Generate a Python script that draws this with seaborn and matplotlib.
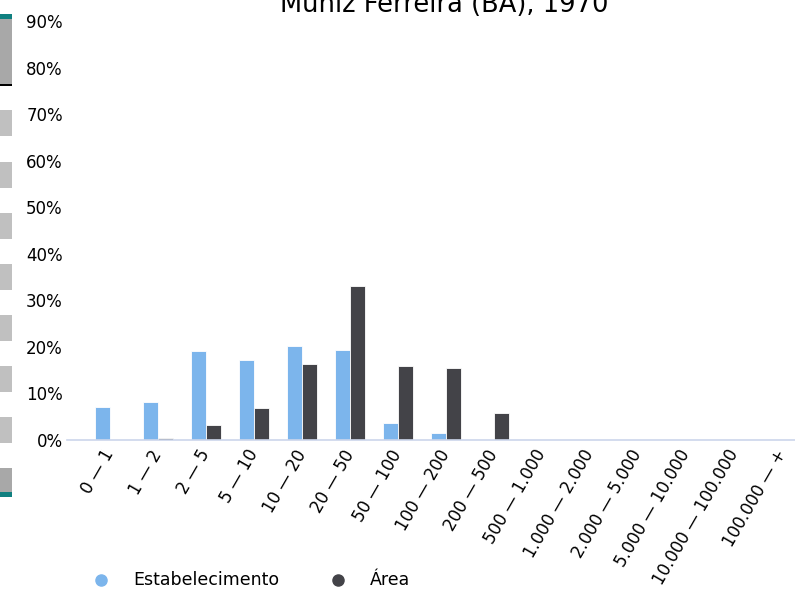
import pandas as pd
import matplotlib
matplotlib.use("Agg")
import matplotlib.pyplot as plt
import seaborn as sns
from matplotlib.patches import Rectangle
from matplotlib.lines import Line2D

# data (percent)
categories = ["0 — 1", "1 — 2", "2 — 5", "5 — 10", "10 — 20", "20 — 50",
              "50 — 100", "100 — 200", "200 — 500", "500 — 1.000",
              "1.000 — 2.000", "2.000 — 5.000", "5.000 — 10.000",
              "10.000 — 100.000", "100.000 — +"]
estabelecimento = [7.1, 8.2, 19.1, 17.2, 20.2, 19.3, 3.6, 1.5, 0, 0, 0, 0, 0, 0, 0]
area = [0, 0.4, 3.2, 6.9, 16.3, 33.1, 15.9, 15.4, 5.8, 0, 0, 0, 0, 0, 0]
series_names = ["Estabelecimento", "Área"]
colors = ["#7cb5ec", "#434348"]
title = "Muniz Ferreira (BA), 1970"

df = pd.DataFrame({
    "classe": categories * 2,
    "valor": estabelecimento + area,
    "serie": [series_names[0]] * len(categories) + [series_names[1]] * len(categories),
})

sns.set_style("white")
plt.rcParams["text.color"] = "black"
plt.rcParams["xtick.color"] = "black"
plt.rcParams["ytick.color"] = "black"

W, H = 795, 589
fig = plt.figure(figsize=(W / 100, H / 100), dpi=100)
ax = fig.add_axes([67 / W, 1 - 440 / H, 728 / W, (440 - 21) / H])

sns.barplot(data=df, x="classe", y="valor", hue="serie", palette=colors,
            saturation=1, width=0.66, gap=0.05, edgecolor="white", linewidth=0.6,
            legend=False, ax=ax)

ax.set_xlim(-0.896, 14.27)
ax.set_ylim(0, 90)
ax.set_yticks(range(0, 91, 10))
ax.set_yticklabels([f"{v}%" for v in range(0, 91, 10)], fontsize=12)
ax.set_xlabel("")
ax.set_ylabel("")
ax.tick_params(axis="both", length=0)
ax.tick_params(axis="y", pad=3)
ax.tick_params(axis="x", pad=8)
for lab in ax.get_xticklabels():
    lab.set_rotation(60)
    lab.set_ha("right")
    lab.set_va("center")
    lab.set_rotation_mode("anchor")
    lab.set_fontsize(12)
for s in ["top", "right", "left"]:
    ax.spines[s].set_visible(False)
ax.spines["bottom"].set_color("#ccd6eb")
ax.spines["bottom"].set_linewidth(1.2)

# title (cropped at the top in the reference)
fig.text(444 / W, 1 - 12 / H, title, ha="center", va="baseline", fontsize=18.5)

# navigator strip on the left edge
def px_rect(y0, y1, color):
    fig.add_artist(Rectangle((0, 1 - y1 / H), 12 / W, (y1 - y0) / H,
                             transform=fig.transFigure, color=color, lw=0))

px_rect(14, 19, "#108080")
px_rect(19, 85, "#a8a8a8")
px_rect(84, 86, "#000000")
for y0 in [110, 162, 213, 264, 315, 366, 417]:
    px_rect(y0, y0 + 26, "#c0c0c0")
px_rect(468, 493, "#a8a8a8")
px_rect(492, 497, "#108080")

# legend
for mx, tx, name, c in [(101, 133, series_names[0], colors[0]),
                        (338, 370, series_names[1], colors[1])]:
    fig.add_artist(Line2D([mx / W], [1 - 580 / H], marker="o", markersize=8,
                          color=c, transform=fig.transFigure))
    fig.text(tx / W, 1 - 580 / H, name, ha="left", va="center", fontsize=12.5)

fig.savefig("out.png", dpi=100)
